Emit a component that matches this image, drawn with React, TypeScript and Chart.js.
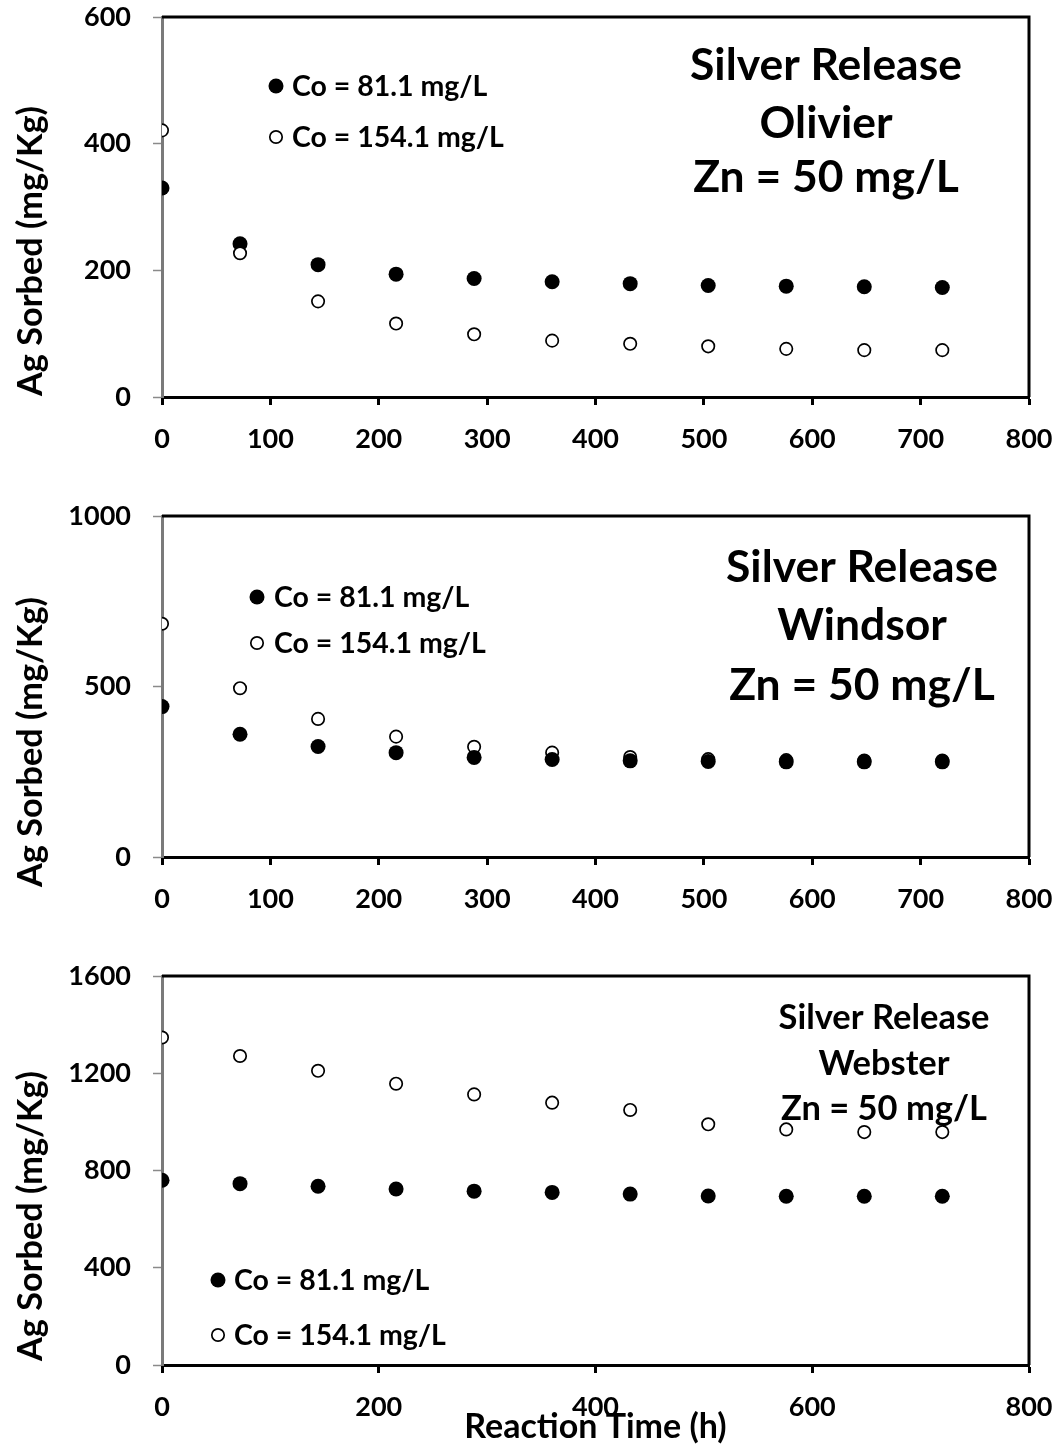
import React, { useEffect, useRef } from "react";
import { Chart, registerables } from "chart.js";

Chart.register(...registerables);

// ---------------- DATA ----------------
const reactionTimes = [0, 72, 144, 216, 288, 360, 432, 504, 576, 648, 720];
const seriesLabels = ["Co = 81.1 mg/L", "Co = 154.1 mg/L"];

const olivierLow = [330, 242, 209, 194, 187, 182, 179, 176, 175, 174, 173];
const olivierHigh = [421, 227, 151, 116, 99, 89, 84, 80, 76, 74, 74];
const windsorLow = [441, 360, 324, 306, 292, 286, 282, 280, 279, 279, 279];
const windsorHigh = [684, 495, 405, 353, 323, 306, 293, 287, 284, 283, 283];
const websterLow = [760, 746, 735, 724, 715, 710, 703, 695, 694, 694, 694];
const websterHigh = [1347, 1271, 1210, 1157, 1113, 1079, 1049, 990, 969, 958, 958];

const olivierYTicks = [0, 200, 400, 600];
const windsorYTicks = [0, 500, 1000];
const websterYTicks = [0, 400, 800, 1200, 1600];
const xTicksFine = [0, 100, 200, 300, 400, 500, 600, 700, 800];
const xTicksCoarse = [0, 200, 400, 600, 800];

const olivierTitle = ["Silver Release", "Olivier", "Zn = 50 mg/L"];
const windsorTitle = ["Silver Release", "Windsor", "Zn = 50 mg/L"];
const websterTitle = ["Silver Release", "Webster", "Zn = 50 mg/L"];

const yAxisTitle = "Ag Sorbed (mg/Kg)";
const xAxisTitle = "Reaction Time (h)";

// ---------------- STYLE / LAYOUT ----------------
const FONT = "Lato";
const PAGE_W = 1058;
const PLOT_LEFT = 162;
const PLOT_RIGHT = 1029;

type Panel = {
  top: number;
  height: number;
  plotTop: number;
  plotBottom: number;
  low: number[];
  high: number[];
  yTicks: number[];
  xTicks: number[];
  title: string[];
  titleCx: number;
  titleBaselines: number[];
  titleRefWidth: number;
  legendX: number;
  legendYs: number[];
  legendTextX: number;
  yTitleCenter: number;
  openOnTop: boolean;
  showXTitle: boolean;
};

const panels: Panel[] = [
  {
    top: 0,
    height: 480,
    plotTop: 17,
    plotBottom: 397,
    low: olivierLow,
    high: olivierHigh,
    yTicks: olivierYTicks,
    xTicks: xTicksFine,
    title: olivierTitle,
    titleCx: 826,
    titleBaselines: [80, 138, 192],
    titleRefWidth: 272,
    legendX: 276,
    legendYs: [86, 137],
    legendTextX: 292,
    yTitleCenter: 251,
    openOnTop: true,
    showXTitle: false,
  },
  {
    top: 480,
    height: 480,
    plotTop: 36,
    plotBottom: 377,
    low: windsorLow,
    high: windsorHigh,
    yTicks: windsorYTicks,
    xTicks: xTicksFine,
    title: windsorTitle,
    titleCx: 862,
    titleBaselines: [102, 160, 220],
    titleRefWidth: 272,
    legendX: 257,
    legendYs: [117, 163],
    legendTextX: 274,
    yTitleCenter: 262,
    openOnTop: false,
    showXTitle: false,
  },
  {
    top: 960,
    height: 489,
    plotTop: 16,
    plotBottom: 405,
    low: websterLow,
    high: websterHigh,
    yTicks: websterYTicks,
    xTicks: xTicksCoarse,
    title: websterTitle,
    titleCx: 884,
    titleBaselines: [69, 115, 160],
    titleRefWidth: 211,
    legendX: 218,
    legendYs: [320, 375],
    legendTextX: 234,
    yTitleCenter: 256,
    openOnTop: false,
    showXTitle: true,
  },
];

function fitSize(ctx: CanvasRenderingContext2D, text: string, target: number) {
  ctx.font = `bold 100px ${FONT}`;
  const w = ctx.measureText(text).width;
  return (100 * target) / w;
}

function makeDecor(p: Panel) {
  return {
    id: "decor",
    afterDatasetsDraw(chart: any) {
      const ctx: CanvasRenderingContext2D = chart.ctx;
      const { left, right, top, bottom } = chart.chartArea;
      ctx.save();
      // top and right frame
      ctx.strokeStyle = "#000";
      ctx.lineWidth = 3;
      ctx.beginPath();
      ctx.moveTo(left, top);
      ctx.lineTo(right, top);
      ctx.lineTo(right, bottom);
      ctx.stroke();

      ctx.fillStyle = "#000";
      // panel annotation
      const tSize = fitSize(ctx, p.title[0], p.titleRefWidth);
      ctx.font = `bold ${tSize}px ${FONT}`;
      ctx.textAlign = "center";
      ctx.textBaseline = "alphabetic";
      p.title.forEach((line, i) => ctx.fillText(line, p.titleCx, p.titleBaselines[i]));

      // legend
      const lSize = fitSize(ctx, seriesLabels[1], 212);
      ctx.font = `bold ${lSize}px ${FONT}`;
      ctx.textAlign = "left";
      chart.data.datasets.forEach((ds: any, i: number) => {
        const y = p.legendYs[i];
        ctx.beginPath();
        ctx.arc(p.legendX, y, ds.pointRadius, 0, Math.PI * 2);
        ctx.fillStyle = ds.pointBackgroundColor;
        ctx.fill();
        ctx.lineWidth = ds.pointBorderWidth;
        ctx.strokeStyle = ds.pointBorderColor;
        if (ds.pointBorderWidth > 0) ctx.stroke();
        ctx.fillStyle = "#000";
        ctx.fillText(ds.label, p.legendTextX, y + lSize * 0.36);
      });

      // y axis title
      const ySize = fitSize(ctx, yAxisTitle, 290);
      ctx.font = `bold ${ySize}px ${FONT}`;
      ctx.translate(42, p.yTitleCenter);
      ctx.rotate(-Math.PI / 2);
      ctx.textAlign = "center";
      ctx.textBaseline = "alphabetic";
      ctx.fillText(yAxisTitle, 0, 0);
      ctx.restore();
    },
  };
}

function PanelChart({ p }: { p: Panel }) {
  const ref = useRef<HTMLCanvasElement | null>(null);
  useEffect(() => {
    if (!ref.current) return;
    const xH = p.height - p.plotBottom;
    const chart = new Chart(ref.current, {
      type: "scatter",
      data: {
        datasets: [
          {
            label: seriesLabels[0],
            data: reactionTimes.map((t, i) => ({ x: t, y: p.low[i] })),
            pointRadius: 7.5,
            pointBackgroundColor: "#000",
            pointBorderColor: "#000",
            pointBorderWidth: 0,
            showLine: false,
            order: p.openOnTop ? 1 : 0,
          } as any,
          {
            label: seriesLabels[1],
            data: reactionTimes.map((t, i) => ({ x: t, y: p.high[i] })),
            pointRadius: 6.2,
            pointBackgroundColor: "#fff",
            pointBorderColor: "#000",
            pointBorderWidth: 1.7,
            showLine: false,
            order: p.openOnTop ? 0 : 1,
          } as any,
        ],
      },
      options: {
        animation: false,
        responsive: false,
        maintainAspectRatio: false,
        devicePixelRatio: 1,
        layout: { padding: { left: 0, top: p.plotTop, right: PAGE_W - PLOT_RIGHT, bottom: 0 } },
        plugins: { legend: { display: false }, tooltip: { enabled: false } },
        scales: {
          x: {
            type: "linear",
            min: 0,
            max: 800,
            afterBuildTicks: (s: any) => {
              s.ticks = p.xTicks.map((v) => ({ value: v }));
            },
            afterFit: (s: any) => {
              s.height = xH;
              s.paddingLeft = 0;
              s.paddingRight = 0;
            },
            border: { display: true, color: "#000", width: 3 },
            grid: {
              display: true,
              drawOnChartArea: false,
              drawTicks: true,
              tickLength: 8,
              tickColor: "#000",
              tickWidth: 3,
            },
            ticks: {
              color: "#000",
              font: { family: FONT, size: 27, weight: "bold" },
              padding: 18,
              maxRotation: 0,
              autoSkip: false,
              callback: (v: any) => String(v),
            },
            title: {
              display: p.showXTitle,
              text: xAxisTitle,
              color: "#000",
              font: { family: FONT, size: 34, weight: "bold" },
              padding: { top: 0, bottom: 2 },
            },
          },
          y: {
            type: "linear",
            min: p.yTicks[0],
            max: p.yTicks[p.yTicks.length - 1],
            afterBuildTicks: (s: any) => {
              s.ticks = p.yTicks.map((v) => ({ value: v }));
            },
            afterFit: (s: any) => {
              s.width = PLOT_LEFT;
              s.paddingTop = 0;
              s.paddingBottom = 0;
            },
            border: { display: true, color: "#7a7a7a", width: 3 },
            grid: {
              display: true,
              drawOnChartArea: false,
              drawTicks: true,
              tickLength: 9,
              tickColor: "#8a8a8a",
              tickWidth: 1.5,
            },
            ticks: {
              color: "#000",
              font: { family: FONT, size: 27, weight: "bold" },
              padding: 22,
              autoSkip: false,
              callback: (v: any) => String(v),
            },
          },
        },
      } as any,
      plugins: [makeDecor(p)],
    });
    return () => chart.destroy();
  }, [p]);
  return (
    <canvas
      ref={ref}
      width={PAGE_W}
      height={p.height}
      style={{ position: "absolute", left: 0, top: p.top, width: PAGE_W, height: p.height }}
    />
  );
}

export default function App() {
  return (
    <div
      style={{
        position: "absolute",
        left: 0,
        top: 0,
        width: PAGE_W,
        height: 1449,
        background: "#fff",
        overflow: "hidden",
      }}
    >
      {panels.map((p, i) => (
        <PanelChart key={i} p={p} />
      ))}
    </div>
  );
}
